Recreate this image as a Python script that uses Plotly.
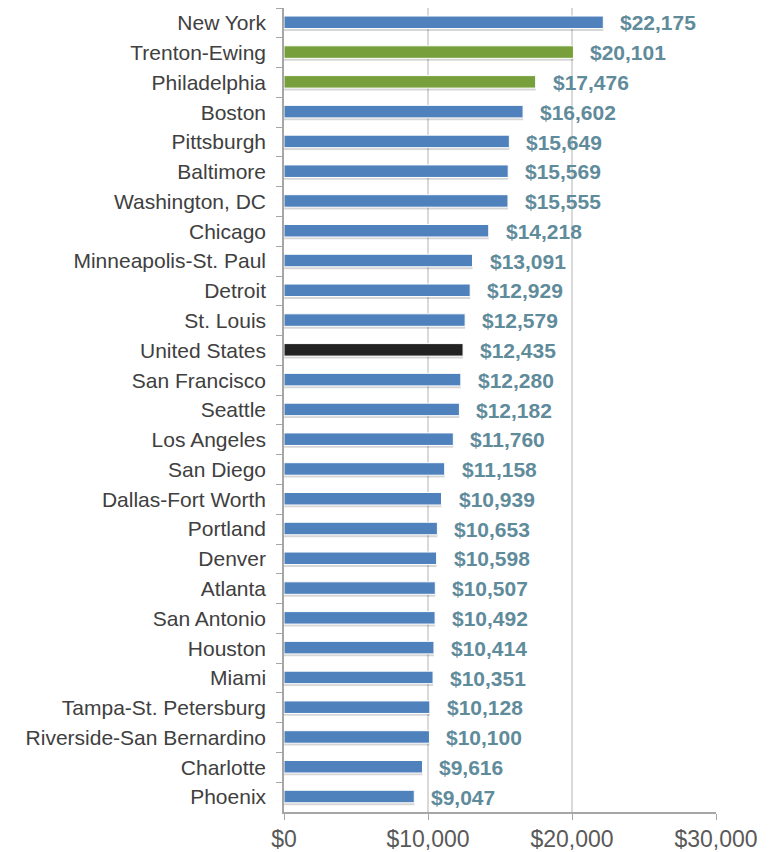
import plotly.graph_objects as go

cities = ["New York", "Trenton-Ewing", "Philadelphia", "Boston", "Pittsburgh", "Baltimore",
          "Washington, DC", "Chicago", "Minneapolis-St. Paul", "Detroit", "St. Louis",
          "United States", "San Francisco", "Seattle", "Los Angeles", "San Diego",
          "Dallas-Fort Worth", "Portland", "Denver", "Atlanta", "San Antonio", "Houston",
          "Miami", "Tampa-St. Petersburg", "Riverside-San Bernardino", "Charlotte", "Phoenix"]
values = [22175, 20101, 17476, 16602, 15649, 15569, 15555, 14218, 13091, 12929, 12579,
          12435, 12280, 12182, 11760, 11158, 10939, 10653, 10598, 10507, 10492, 10414,
          10351, 10128, 10100, 9616, 9047]
highlight = {"Trenton-Ewing": "#77A03C", "Philadelphia": "#77A03C", "United States": "#222222"}
colors = [highlight.get(c, "#4F81BD") for c in cities]
tick_vals = [0, 10000, 20000, 30000]
tick_text = ["$0", "$10,000", "$20,000", "$30,000"]

FONT = "Liberation Sans, Arial, sans-serif"

fig = go.Figure()
# soft shadow behind each bar
fig.add_trace(go.Bar(
    x=values, y=cities, orientation="h", width=0.42, offset=-0.15,
    marker=dict(color="rgba(0,0,0,0.16)", line=dict(width=0)),
    hoverinfo="skip", showlegend=False))
fig.add_trace(go.Bar(
    x=values, y=cities, orientation="h", width=0.42, offset=-0.23,
    marker=dict(color=colors, line=dict(color="white", width=1)),
    showlegend=False))

for c, v in zip(cities, values):
    fig.add_annotation(x=v, y=c, text=f"<b>${v:,}</b>", showarrow=False,
                       xanchor="left", xshift=15, yshift=0,
                       font=dict(family=FONT, size=21, color="#5F8B9B"))

fig.update_layout(
    width=770, height=852, barmode="overlay",
    margin=dict(l=276, r=62, t=0, b=48),
    plot_bgcolor="white", paper_bgcolor="white",
    font=dict(family=FONT, color="#404040"),
    xaxis=dict(range=[0, 30000], tickvals=tick_vals, ticktext=tick_text,
               showgrid=True, gridcolor="#D9D9D9", gridwidth=1.5,
               showline=True, linecolor="#A6A6A6", linewidth=1.5,
               ticks="outside", ticklen=6, tickcolor="#A6A6A6",
               tickfont=dict(family=FONT, size=23, color="#595959"), zeroline=False),
    yaxis=dict(autorange="reversed", type="category", tickson="boundaries",
               showline=True, linecolor="#A6A6A6", linewidth=1.5,
               ticks="outside", ticklen=6, tickcolor="#A6A6A6", ticklabelstandoff=12,
               tickfont=dict(family=FONT, size=21, color="#404040"), showgrid=False),
)
fig.write_html("out.html")
